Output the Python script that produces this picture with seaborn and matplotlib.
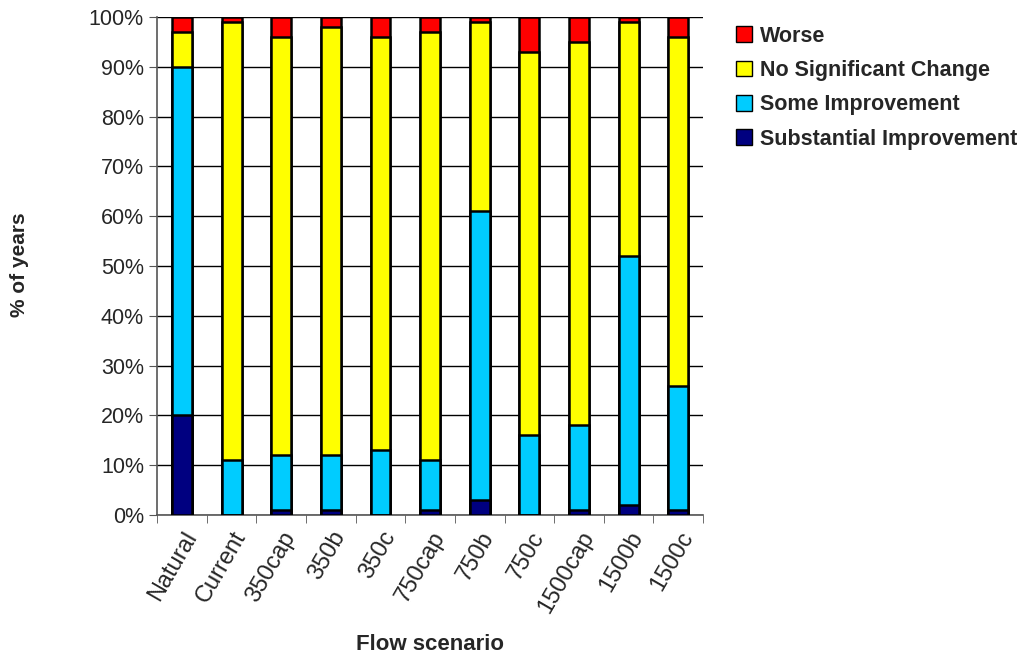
import numpy as np
import pandas as pd
import matplotlib
matplotlib.use('Agg')
import matplotlib.pyplot as plt
import seaborn as sns
from matplotlib.patches import Patch

# Data (% of years)
scenarios = ['Natural', 'Current', '350cap', '350b', '350c', '750cap',
             '750b', '750c', '1500cap', '1500b', '1500c']
substantial = [20, 0, 1, 1, 0, 1, 3, 0, 1, 2, 1]
some_impr = [70, 11, 11, 11, 13, 10, 58, 16, 17, 50, 25]
no_change = [7, 88, 84, 86, 83, 86, 38, 77, 77, 47, 70]
worse = [3, 1, 4, 2, 4, 3, 1, 7, 5, 1, 4]

series_names = ['Substantial Improvement', 'Some Improvement',
                'No Significant Change', 'Worse']
colors = ['#000080', '#00CCFF', '#FFFF00', '#FF0000']

df = pd.DataFrame({'Scenario': scenarios,
                   'Substantial Improvement': substantial,
                   'Some Improvement': some_impr,
                   'No Significant Change': no_change,
                   'Worse': worse})

# cumulative tops so bars can be overlaid from the top series down
cum = df[series_names].cumsum(axis=1)
cum['Scenario'] = df['Scenario']

sns.set_style('white')
plt.rcParams['font.family'] = ['Liberation Sans', 'DejaVu Sans']

fig = plt.figure(figsize=(10.34, 6.59), dpi=100)
ax = fig.add_axes([0.152, 0.2185, 0.528, 0.7555])

for name, col in reversed(list(zip(series_names, colors))):
    sns.barplot(data=cum, x='Scenario', y=name, color=col, width=0.4,
                edgecolor='black', linewidth=1.8, saturation=1, ax=ax, zorder=3)

ax.set_xlim(-0.5, len(scenarios) - 0.5)
ax.set_ylim(0, 100)
ax.set_yticks(np.arange(0, 101, 10))
ax.set_yticklabels([f'{v}%' for v in range(0, 101, 10)], fontsize=15.5)
ax.yaxis.grid(True, color='black', linewidth=1, zorder=0)
ax.set_axisbelow(True)

# category labels at centres, tick marks at the category boundaries
ax.set_xticks(range(len(scenarios)))
ax.set_xticklabels(scenarios, rotation=60, ha='right', rotation_mode='anchor', fontsize=17)
ax.tick_params(axis='x', which='major', length=0, pad=9)
ax.set_xticks(np.arange(-0.5, len(scenarios)), minor=True)
ax.tick_params(axis='x', which='minor', length=6, color='#555555', direction='out', bottom=True)
ax.tick_params(axis='y', length=6, color='#555555', direction='out', left=True)

for s in ['top', 'right']:
    ax.spines[s].set_visible(False)
for s in ['left', 'bottom']:
    ax.spines[s].set_color('#555555')
    ax.spines[s].set_linewidth(1.2)

ax.set_xlabel('')
ax.set_ylabel('')
fig.text(430 / 1034, 1 - 645 / 659, 'Flow scenario', fontsize=16, fontweight='bold',
         ha='center', va='center')
fig.text(20 / 1034, 1 - 265 / 659, '% of years', fontsize=15, fontweight='bold',
         ha='center', va='center', rotation=90)

handles = [Patch(facecolor=c, edgecolor='black', label=n)
           for n, c in reversed(list(zip(series_names, colors)))]
leg = ax.legend(handles=handles, loc='upper left', bbox_to_anchor=(1.045, 1.0),
                frameon=False, prop={'size': 15.5, 'weight': 'bold'},
                handlelength=0.75, handleheight=0.75, handletextpad=0.35,
                labelspacing=0.62, borderaxespad=0)

fig.savefig('out.png', dpi=100)
